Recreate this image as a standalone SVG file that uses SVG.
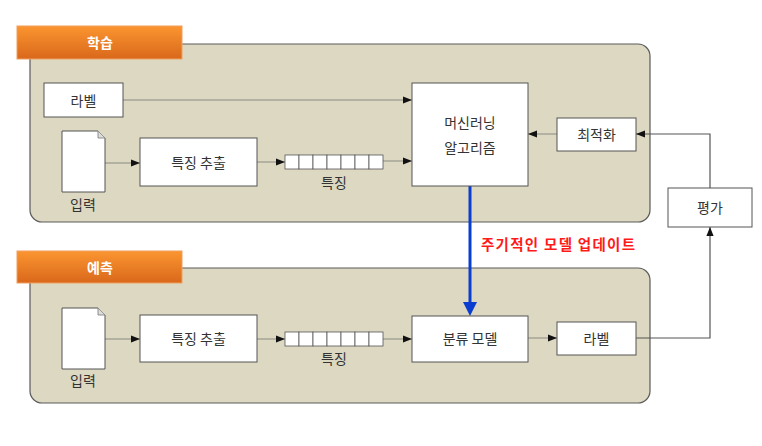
<svg xmlns="http://www.w3.org/2000/svg" width="762" height="446" viewBox="0 0 762 446">
<style>
.panel{fill:#dcd8c2;stroke:#5a5a5a;stroke-width:1.2}
.box{fill:#fff;stroke:#555;stroke-width:1}
.t{font-family:"Noto Sans CJK KR","Noto Sans",sans-serif;font-size:14px;fill:#333;text-anchor:middle;dominant-baseline:central}
.ht{font-family:"Noto Sans CJK KR","Noto Sans",sans-serif;font-size:14px;fill:#fff;text-anchor:middle;dominant-baseline:central;font-weight:bold}
.c{fill:none;stroke:#8a8a80;stroke-width:1;marker-end:url(#ah)}
.c2{fill:none;stroke:#555;stroke-width:1.2;marker-end:url(#ah)}
.cell{fill:#fff;stroke:#555;stroke-width:0.8}
</style>
<defs>
<linearGradient id="og" x1="0" y1="0" x2="0" y2="1">
<stop offset="0" stop-color="#fb9530"/>
<stop offset="1" stop-color="#d9681b"/>
</linearGradient>
<marker id="ah" viewBox="0 0 10 10" refX="10" refY="5" markerWidth="9" markerHeight="9" markerUnits="userSpaceOnUse" orient="auto">
<path d="M0,1 L10,5 L0,9 z" fill="#111"/>
</marker>
<g id="doc"><path d="M0,0 H36 L43,7 V61 H0 Z" fill="#fff" stroke="#555" stroke-width="1"/><path d="M36,0 V7 H43" fill="#ddd" stroke="#777" stroke-width="0.8"/></g>
<g id="strip">
<rect class="cell" x="0" y="0" width="14" height="14"/><rect class="cell" x="14" y="0" width="14" height="14"/><rect class="cell" x="28" y="0" width="14" height="14"/><rect class="cell" x="42" y="0" width="14" height="14"/><rect class="cell" x="56" y="0" width="14" height="14"/><rect class="cell" x="70" y="0" width="14" height="14"/><rect class="cell" x="84" y="0" width="14" height="14"/>
</g>
</defs>
<rect width="762" height="446" fill="#fff"/>

<g id="train-panel">
<rect class="panel" x="30" y="44" width="620" height="178" rx="12"/>
<rect x="17" y="26" width="165" height="33" fill="url(#og)" stroke="#f0a060" stroke-width="1"/>
<text class="ht" x="100" y="42">학습</text>
</g>
<g id="predict-panel">
<rect class="panel" x="30" y="268" width="620" height="135" rx="12"/>
<rect x="17" y="251" width="165" height="32" fill="url(#og)" stroke="#f0a060" stroke-width="1"/>
<text class="ht" x="100" y="267">예측</text>
</g>

<g id="connectors">
<path class="c" d="M123,100 H412"/>
<path class="c" d="M105,163 H140"/>
<path class="c" d="M257,162 H285"/>
<path class="c" d="M383,161 H412"/>
<path class="c" d="M557,134 H528"/>
<path class="c2" d="M710,188 V134 H636"/>
<path class="c" d="M105,339 H140"/>
<path class="c" d="M257,339 H285"/>
<path class="c" d="M383,339 H412"/>
<path class="c" d="M528,338 H557"/>
<path class="c2" d="M636,338 H710 V227"/>
<path d="M470,186 V304" stroke="#0a3ed0" stroke-width="3" fill="none"/>
<path d="M463,302 L477,302 L470,316 Z" fill="#0a3ed0"/>
</g>

<g id="label-train"><rect class="box" x="44" y="83" width="79" height="34"/><text class="t" x="83.5" y="100">라벨</text></g>
<g id="input-train"><use href="#doc" x="62" y="131"/><text class="t" x="83" y="204">입력</text></g>
<g id="extract-train"><rect class="box" x="140" y="138" width="117" height="48"/><text class="t" x="198.5" y="162">특징 추출</text></g>
<g id="feature-train"><use href="#strip" x="285" y="155"/><text class="t" x="334" y="182">특징</text></g>
<g id="ml-algo"><rect class="box" x="412" y="83" width="116" height="103"/><text class="t" x="470" y="122">머신러닝</text><text class="t" x="470" y="147">알고리즘</text></g>
<g id="optimize"><rect class="box" x="557" y="118" width="79" height="33"/><text class="t" x="596.5" y="134">최적화</text></g>
<g id="evaluate"><rect class="box" x="668" y="188" width="84" height="39"/><text class="t" x="710" y="207">평가</text></g>

<g id="update-label"><text x="481" y="243" textLength="154" lengthAdjust="spacing" font-family="'Noto Sans CJK KR','Noto Sans',sans-serif" font-size="14.5" font-weight="bold" fill="#ff1a1a" dominant-baseline="central">주기적인 모델 업데이트</text></g>

<g id="input-predict"><use href="#doc" x="62" y="308"/><text class="t" x="83" y="380">입력</text></g>
<g id="extract-predict"><rect class="box" x="140" y="315" width="117" height="47"/><text class="t" x="198.5" y="338">특징 추출</text></g>
<g id="feature-predict"><use href="#strip" x="285" y="332"/><text class="t" x="334" y="358">특징</text></g>
<g id="classifier"><rect class="box" x="412" y="316" width="116" height="46"/><text class="t" x="470" y="338">분류 모델</text></g>
<g id="label-predict"><rect class="box" x="557" y="322" width="79" height="33"/><text class="t" x="596.5" y="338">라벨</text></g>
</svg>
